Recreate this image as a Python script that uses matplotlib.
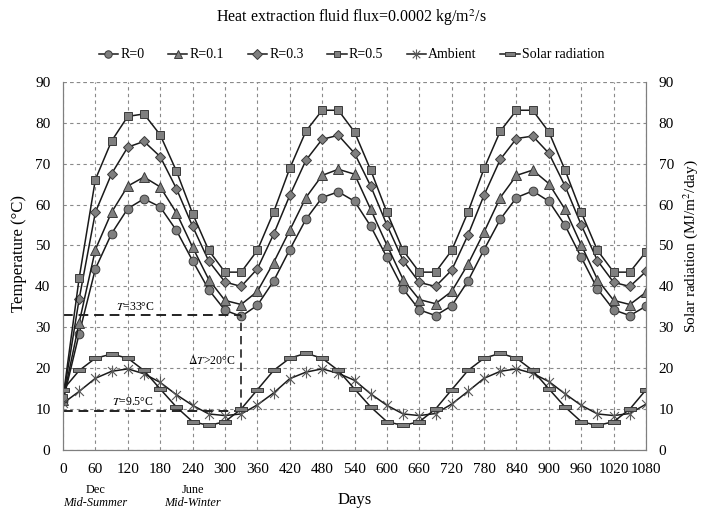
import matplotlib.pyplot as plt
import numpy as np
from matplotlib.path import Path

plt.rcParams['font.family'] = ['Liberation Serif', 'DejaVu Serif']
plt.rcParams['mathtext.fontset'] = 'stix'

# Days (every 30 days)
days = list(range(0, 1081, 30))

r0 = [12.0, 28.5, 44.3, 52.9, 59.0, 61.4, 59.4, 53.7, 46.3, 39.2, 34.2, 32.7, 35.4,
      41.3, 49.0, 56.4, 61.7, 63.1, 60.8, 54.7, 47.1, 39.4, 34.3, 32.9, 35.3,
      41.3, 49.0, 56.4, 61.7, 63.3, 60.8, 54.9, 47.1, 39.4, 34.3, 32.9, 35.2]
r01 = [12.3, 31.2, 49.0, 58.1, 64.5, 66.7, 64.3, 58.0, 49.6, 41.7, 36.6, 35.6, 38.8,
       45.8, 53.7, 61.7, 67.1, 68.6, 67.4, 58.8, 50.1, 41.7, 36.8, 35.8, 38.8,
       45.4, 53.3, 61.7, 67.1, 68.4, 65.1, 58.8, 50.1, 41.7, 36.6, 35.6, 38.6]
r03 = [12.5, 37.0, 58.1, 67.5, 74.0, 75.4, 71.7, 63.9, 54.7, 46.2, 41.1, 40.0, 44.3,
       52.7, 62.2, 70.8, 75.9, 76.9, 72.5, 64.5, 55.0, 46.3, 41.0, 40.0, 44.0,
       52.5, 62.3, 71.0, 76.1, 76.7, 72.5, 64.5, 55.0, 46.3, 41.0, 40.0, 43.7]
r05 = [12.8, 42.1, 66.1, 75.5, 81.5, 82.1, 77.0, 68.2, 57.8, 48.8, 43.5, 43.5, 48.8,
       58.1, 68.8, 77.9, 83.0, 83.0, 77.7, 68.4, 58.1, 48.8, 43.5, 43.5, 48.8,
       58.1, 68.8, 77.9, 83.0, 83.0, 77.7, 68.4, 58.1, 48.8, 43.5, 43.5, 48.5]
ambient = [11.5, 14.4, 17.6, 19.3, 19.9, 18.7, 16.6, 13.6, 11.0, 8.9, 8.5, 8.9, 11.1,
           14.0, 17.5, 19.1, 19.9, 18.8, 17.1, 13.8, 11.0, 8.9, 8.5, 9.0, 11.3,
           14.4, 17.6, 19.3, 19.9, 18.8, 16.8, 13.8, 11.0, 8.9, 8.5, 9.0, 11.3]
solar = [14.8, 19.5, 22.5, 23.5, 22.5, 19.5, 15.0, 10.6, 7.0, 6.1, 7.0, 10.1, 14.8,
         19.5, 22.5, 23.7, 22.5, 19.5, 15.0, 10.6, 7.0, 6.1, 7.0, 10.1, 14.8,
         19.5, 22.5, 23.7, 22.5, 19.5, 15.0, 10.6, 7.0, 6.1, 7.0, 10.1, 14.8]

# custom markers (Excel-like star and flat dash)
star = Path([(0, -1), (0, 1), (-0.75, -0.75), (0.75, 0.75), (-0.75, 0.75), (0.75, -0.75)],
            [Path.MOVETO, Path.LINETO, Path.MOVETO, Path.LINETO, Path.MOVETO, Path.LINETO])
bar = Path([(-1, -0.32), (1, -0.32), (1, 0.32), (-1, 0.32), (-1, -0.32)],
           [Path.MOVETO, Path.LINETO, Path.LINETO, Path.LINETO, Path.CLOSEPOLY])

fig = plt.figure(figsize=(7.03, 5.13), dpi=100)
ax = fig.add_axes([0.0896, 0.122, 0.8294, 0.719])

gray = '#7f7f7f'
edge = '#3a3a3a'
line = '#1a1a1a'
kw = dict(color=line, lw=1.1, markerfacecolor=gray, markeredgecolor=edge, markeredgewidth=0.7)
h1, = ax.plot(days, r0, marker='o', markersize=6.3, label='R=0', **kw)
h2, = ax.plot(days, r01, marker='^', markersize=6.8, label='R=0.1', **kw)
h3, = ax.plot(days, r03, marker='D', markersize=5.6, label='R=0.3', **kw)
h4, = ax.plot(days, r05, marker='s', markersize=5.8, label='R=0.5', **kw)
h5, = ax.plot(days, ambient, marker=star, markersize=8.5, color=line, lw=1.1,
              markeredgecolor='#5a5a5a', markeredgewidth=0.8, label='Ambient')

ax2 = ax.twinx()
h6, = ax2.plot(days, solar, marker=bar, markersize=8.6, label='Solar radiation', **kw)

for a in (ax, ax2):
    a.set_ylim(0, 90)
    a.set_xlim(0, 1080)
    a.set_yticks(range(0, 91, 10))
    a.tick_params(length=0, labelsize=11, pad=9)
    a.spines['top'].set_visible(False)
    for s in ('left', 'right', 'bottom'):
        a.spines[s].set_color('#7f7f7f')
ax.set_xticks(range(0, 1081, 60))
ax.grid(True, linestyle=(0, (3, 3)), color='#8a8a8a', lw=0.8)
ax.axhline(90, linestyle=(0, (3, 3)), color='#8a8a8a', lw=0.8)

ax.set_ylabel('Temperature (°C)', fontsize=12)
ax.yaxis.set_label_coords(-0.0755, 0.535)
ax.yaxis.label.set_va('center')
ax2.set_ylabel('Solar radiation (MJ/m$^2$/day)', fontsize=11)
ax2.yaxis.set_label_coords(1.076, 0.555)
ax2.yaxis.label.set_va('center')
ax.set_xlabel('Days', fontsize=12)
ax.xaxis.set_label_coords(0.5, -0.134)
ax.xaxis.label.set_va('center')

# annotations
ax.plot([0, 330], [33, 33], color='#222222', lw=1.4, linestyle=(0, (5, 3)))
ax.plot([0, 330], [9.5, 9.5], color='#222222', lw=1.4, linestyle=(0, (5, 3)))
ax.plot([330, 330], [9.5, 33], color='#222222', lw=1.2, linestyle=(0, (5, 3)))
ax.text(98, 35.0, '$T$=33°C', fontsize=8.5, va='center')
ax.text(90, 11.7, '$T$=9.5°C', fontsize=8.5, va='center')
ax.text(231, 22.0, r'$\Delta T$>20°C', fontsize=8.5, va='center')

ax.text(60, -9.7, 'Dec', ha='center', va='center', fontsize=8.8)
ax.text(60, -12.9, 'Mid-Summer', ha='center', va='center', fontsize=8.8, style='italic')
ax.text(240, -9.7, 'June', ha='center', va='center', fontsize=8.8)
ax.text(240, -12.9, 'Mid-Winter', ha='center', va='center', fontsize=8.8, style='italic')

fig.text(0.5, 0.965, 'Heat extraction fluid flux=0.0002 kg/m$^2$/s', ha='center', va='center', fontsize=11.5)
fig.legend(handles=[h1, h2, h3, h4, h5, h6], loc='center', bbox_to_anchor=(0.5, 0.893),
           ncol=6, frameon=False, fontsize=10, handlelength=1.4, handletextpad=0.15,
           columnspacing=1.7, markerscale=0.85)

fig.savefig('out.png', dpi=100)
